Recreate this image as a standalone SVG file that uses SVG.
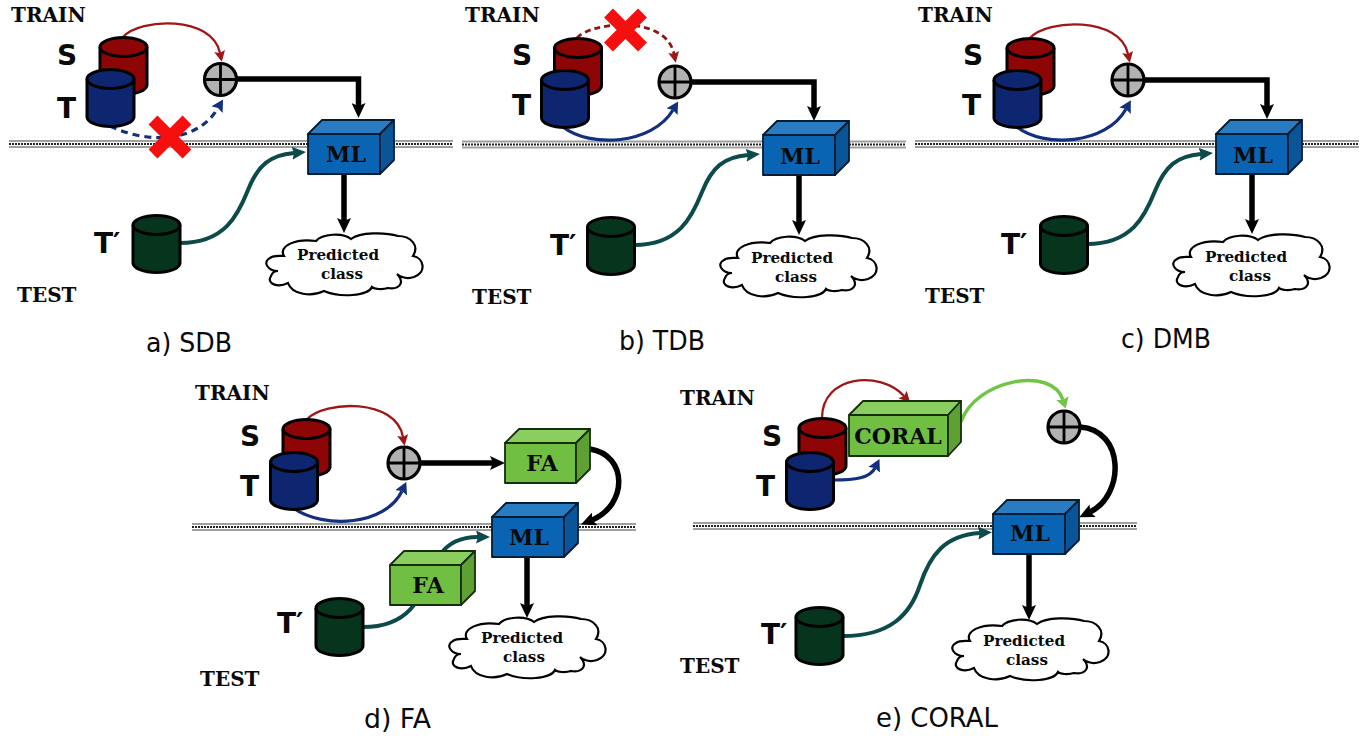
<svg xmlns="http://www.w3.org/2000/svg" width="1366" height="736" viewBox="0 0 1366 736">
<style>
text{fill:#0a0a0a}
.hd{font:bold 20px "DejaVu Serif","Liberation Serif",serif}
.ltr{font:bold 28px "DejaVu Sans","Liberation Sans",sans-serif}
.cap{font:27px "DejaVu Sans","Liberation Sans",sans-serif}
.box{font:bold 22px "DejaVu Serif","Liberation Serif",serif;text-anchor:middle}
.pc{font:bold 15.2px "DejaVu Serif","Liberation Serif",serif;text-anchor:middle}
.red{fill:#8e0505}.blu{fill:#0e2570}.grn{fill:#07341c}
.cyl{stroke:#000;stroke-width:3}
.in{fill:none}
.cb path{stroke:#041c34;stroke-width:1.8;stroke-linejoin:round}
.gb path{stroke:#162e0c;stroke-width:1.8;stroke-linejoin:round}
.c{fill:none}
.r{stroke:#a01515;stroke-width:2.3}
.rd{stroke:#8c1515;stroke-width:2.8;stroke-dasharray:6 4}
.b{stroke:#12307f;stroke-width:3.2}
.bd{stroke:#12307f;stroke-width:3.2;stroke-dasharray:7 5}
.t{stroke:#0d4b4b;stroke-width:4}
.k{stroke:#000;stroke-width:5.5}
.g{stroke:#70c545;stroke-width:3.5}
.x{stroke:#f60f0f;stroke-width:12.5}
.sep1{stroke:#a0a0a0;stroke-width:1.8}
.sep2{stroke:#222;stroke-width:2;stroke-dasharray:2 1}
.sum{fill:#b2b2b2;stroke:#000;stroke-width:3.2}
.cross{stroke:#000;stroke-width:2.8}
.cl{fill:#fff;stroke:#000;stroke-width:2.2}
</style>
<defs>
<marker id="mr" markerUnits="userSpaceOnUse" markerWidth="11" markerHeight="11" refX="2" refY="5.500" orient="auto"><path d="M0,0 L11,5.500 L0,11 L2,5.500Z" fill="#a01515"/></marker>
<marker id="mb" markerUnits="userSpaceOnUse" markerWidth="12" markerHeight="13" refX="2" refY="6.500" orient="auto"><path d="M0,0 L12,6.500 L0,13 L2,6.500Z" fill="#12307f"/></marker>
<marker id="mt" markerUnits="userSpaceOnUse" markerWidth="14" markerHeight="13" refX="2" refY="6.500" orient="auto"><path d="M0,0 L14,6.500 L0,13 L2,6.500Z" fill="#0d4b4b"/></marker>
<marker id="mg" markerUnits="userSpaceOnUse" markerWidth="11" markerHeight="13" refX="2" refY="6.500" orient="auto"><path d="M0,0 L11,6.500 L0,13 L2,6.500Z" fill="#70c545"/></marker>
<marker id="mk" markerUnits="userSpaceOnUse" markerWidth="15" markerHeight="14" refX="3" refY="7" orient="auto"><path d="M0,0 L15,7 L0,14 L3,7Z" fill="#000"/></marker>
<g id="cylinder"><path class="cyl" d="M-23.5,0A23.5,9.5 0 0 1 23.5,0V38A23.5,9.5 0 0 1 -23.5,38Z"/><path class="cyl in" d="M-23.5,0A23.5,9.5 0 0 0 23.5,0"/></g>
<g id="mlbox" class="cb"><path d="M0,0H72V40H0Z" fill="#0a64b4"/><path d="M0,0L14,-14H86L72,0Z" fill="#2a7cc2"/><path d="M72,0L86,-14V26L72,40Z" fill="#0a5498"/></g>
<g id="fabox" class="gb"><path d="M0,0H71V40H0Z" fill="#70bf42"/><path d="M0,0L14,-14H85L71,0Z" fill="#8bce60"/><path d="M71,0L85,-14V26L71,40Z" fill="#5ea032"/></g>
<g id="sumop"><circle r="16" class="sum"/><path class="cross" d="M-16,0H16M0,-16V16"/></g>
<path id="cloud" class="cl" d="M278,271C268,271 262,262 270,258C274,255 280,256 284,256C278,246 296,238 316,241C322,234 342,232 351,239C360,232 385,232 398,236C410,236 420,245 413,256C424,258 427,272 414,277C408,279 402,278 397,274C405,282 400,290 388,288C382,290 374,289 372,287C368,296 340,298 324,291C312,297 292,295 288,283C278,288 266,284 271,276C272,273 275,271 278,271Z"/>
<g id="sepline"><path class="sep1" d="M0,-3H444M0,3H444"/><path class="sep2" d="M0,0H444"/></g>
<path id="cross" class="x" d="M-17,-17L17,17M17,-17L-17,17"/>
</defs>

<g id="separators">
<use href="#sepline" x="9" y="144"/>
<use href="#sepline" x="462" y="144.500"/>
<use href="#sepline" x="915" y="144"/>
<use href="#sepline" x="192" y="527"/>
<use href="#sepline" x="693" y="526"/>
</g>

<g id="connectors">
<!-- a -->
<path class="c r" marker-end="url(#mr)" d="M123,37C140,18 212,15 220,53"/>
<path class="c bd" marker-end="url(#mb)" d="M110,126C150,145 198,142 218,108"/>
<path class="c k" marker-end="url(#mk)" d="M236,79H358.500V106"/>
<path class="c t" marker-end="url(#mt)" d="M180,243C225,243 238,215 248,190C258,165 270,155 294,153"/>
<path class="c k" marker-end="url(#mk)" d="M344,174V221"/>
<!-- b -->
<path class="c rd" marker-end="url(#mr)" d="M577,38C590,22 666,14 674,54"/>
<path class="c b" marker-end="url(#mb)" d="M563,127C590,148 652,145 673,110"/>
<path class="c k" marker-end="url(#mk)" d="M691,82H814V109"/>
<path class="c t" marker-end="url(#mt)" d="M634,245C679,245 692,217 702,192C712,167 724,157 748,155"/>
<path class="c k" marker-end="url(#mk)" d="M799,175V223"/>
<!-- c -->
<path class="c r" marker-end="url(#mr)" d="M1030,38C1047,19 1120,16 1128,54"/>
<path class="c b" marker-end="url(#mb)" d="M1017,127C1044,148 1106,145 1126,109"/>
<path class="c k" marker-end="url(#mk)" d="M1144,80H1267V107"/>
<path class="c t" marker-end="url(#mt)" d="M1087,244C1132,244 1145,216 1155,191C1165,166 1177,156 1201,154"/>
<path class="c k" marker-end="url(#mk)" d="M1252,174V222"/>
<!-- d -->
<path class="c r" marker-end="url(#mr)" d="M306,420C325,400 396,398 403,437"/>
<path class="c b" marker-end="url(#mb)" d="M293,508C325,530 386,525 402,491"/>
<path class="c k" marker-end="url(#mk)" d="M420,463H493"/>
<path class="c k" marker-end="url(#mk)" d="M590,449C628,455 628,505 592,520"/>
<path class="c t" marker-end="url(#mt)" d="M363,627C410,627 420,600 440,555C450,540 465,537 478,537"/>
<path class="c k" marker-end="url(#mk)" d="M527,558V606"/>
<!-- e -->
<path class="c r" marker-end="url(#mr)" d="M822,418C822,375 880,370 904,396"/>
<path class="c b" marker-end="url(#mb)" d="M834,480C855,480 870,478 875,468"/>
<path class="c g" marker-end="url(#mg)" d="M961,422C975,380 1052,365 1063,400"/>
<path class="c k" marker-end="url(#mk)" d="M1080,427C1125,430 1125,495 1090,512"/>
<path class="c t" marker-end="url(#mt)" d="M843,636C890,636 910,615 920,585C930,555 945,535 980,533"/>
<path class="c k" marker-end="url(#mk)" d="M1029,554V608"/>
</g>

<g id="panel-a">
<text class="hd" x="11" y="22">TRAIN</text><text class="hd" x="17" y="302">TEST</text>
<text class="ltr" x="57" y="65">S</text><text class="ltr" x="57" y="118">T</text><text class="ltr" x="94" y="253">T′</text>
<text class="cap" x="146" y="352" textLength="86" lengthAdjust="spacingAndGlyphs">a) SDB</text>
<g id="a-s"><use href="#cylinder" class="red" x="123.500" y="47"/></g>
<g id="a-t"><use href="#cylinder" class="blu" x="110.500" y="79"/></g>
<g id="a-tp"><use href="#cylinder" class="grn" x="156.500" y="225"/></g>
<g id="a-sum"><use href="#sumop" x="220.500" y="79.500"/></g>
<g id="a-ml"><use href="#mlbox" x="308" y="134"/><text class="box" x="346" y="162">ML</text></g>
<g id="a-cloud"><use href="#cloud"/><text class="pc" x="338" y="260">Predicted</text><text class="pc" x="342" y="279">class</text></g>
<use id="a-x" href="#cross" x="170" y="137"/>
</g>

<g id="panel-b">
<text class="hd" x="465" y="22">TRAIN</text><text class="hd" x="472" y="304">TEST</text>
<text class="ltr" x="512" y="65">S</text><text class="ltr" x="512" y="115">T</text><text class="ltr" x="550" y="255">T′</text>
<text class="cap" x="619" y="350" textLength="86" lengthAdjust="spacingAndGlyphs">b) TDB</text>
<g id="b-s"><use href="#cylinder" class="red" x="578" y="48"/></g>
<g id="b-t"><use href="#cylinder" class="blu" x="565" y="80"/></g>
<g id="b-tp"><use href="#cylinder" class="grn" x="611" y="227"/></g>
<g id="b-sum"><use href="#sumop" x="675" y="82"/></g>
<g id="b-ml"><use href="#mlbox" x="763" y="135"/><text class="box" x="800" y="164">ML</text></g>
<g id="b-cloud"><use href="#cloud" x="454" y="2"/><text class="pc" x="792" y="263">Predicted</text><text class="pc" x="796" y="282">class</text></g>
<use id="b-x" href="#cross" x="625.500" y="30"/>
</g>

<g id="panel-c">
<text class="hd" x="918" y="22">TRAIN</text><text class="hd" x="925" y="303">TEST</text>
<text class="ltr" x="963" y="65">S</text><text class="ltr" x="962" y="115">T</text><text class="ltr" x="1001" y="254">T′</text>
<text class="cap" x="1121" y="348" textLength="90" lengthAdjust="spacingAndGlyphs">c) DMB</text>
<g id="c-s"><use href="#cylinder" class="red" x="1030.500" y="48"/></g>
<g id="c-t"><use href="#cylinder" class="blu" x="1017.500" y="80"/></g>
<g id="c-tp"><use href="#cylinder" class="grn" x="1064" y="226"/></g>
<g id="c-sum"><use href="#sumop" x="1128" y="80"/></g>
<g id="c-ml"><use href="#mlbox" x="1216" y="134"/><text class="box" x="1253" y="163">ML</text></g>
<g id="c-cloud"><use href="#cloud" x="907" y="1"/><text class="pc" x="1246" y="262">Predicted</text><text class="pc" x="1250" y="281">class</text></g>
</g>

<g id="panel-d">
<text class="hd" x="195" y="400">TRAIN</text><text class="hd" x="200" y="686">TEST</text>
<text class="ltr" x="240" y="446">S</text><text class="ltr" x="240" y="496">T</text><text class="ltr" x="277" y="633">T′</text>
<text class="cap" x="364" y="728" textLength="67" lengthAdjust="spacingAndGlyphs">d) FA</text>
<g id="d-s"><use href="#cylinder" class="red" x="306.500" y="429"/></g>
<g id="d-t"><use href="#cylinder" class="blu" x="294" y="462"/></g>
<g id="d-tp"><use href="#cylinder" class="grn" x="339.500" y="608"/></g>
<g id="d-sum"><use href="#sumop" x="404" y="463"/></g>
<g id="d-fa1"><use href="#fabox" x="505" y="443"/><text class="box" x="542" y="471">FA</text></g>
<g id="d-ml"><use href="#mlbox" x="492" y="517"/><text class="box" x="529" y="545">ML</text></g>
<g id="d-fa2"><use href="#fabox" x="390" y="565"/><text class="box" x="428" y="593">FA</text></g>
<g id="d-cloud"><use href="#cloud" x="183" y="383"/><text class="pc" x="522" y="643">Predicted</text><text class="pc" x="524" y="662">class</text></g>
</g>

<g id="panel-e">
<text class="hd" x="680" y="405">TRAIN</text><text class="hd" x="680" y="673">TEST</text>
<text class="ltr" x="762" y="446">S</text><text class="ltr" x="756" y="496">T</text><text class="ltr" x="761" y="644">T′</text>
<text class="cap" x="876" y="727" textLength="122" lengthAdjust="spacingAndGlyphs">e) CORAL</text>
<g id="e-s"><use href="#cylinder" class="red" x="822.500" y="428"/></g>
<g id="e-t"><use href="#cylinder" class="blu" x="810" y="462"/></g>
<g id="e-tp"><use href="#cylinder" class="grn" x="819.500" y="617"/></g>
<g id="e-sum"><use href="#sumop" x="1064" y="427"/></g>
<g id="e-coral" class="gb"><path d="M849,415H948V456H849Z" fill="#70bf42"/><path d="M849,415L863,401H961L948,415Z" fill="#8bce60"/><path d="M948,415L961,401V442L948,456Z" fill="#5ea032"/><text class="box" x="898" y="444">CORAL</text></g>
<g id="e-ml"><use href="#mlbox" x="993" y="514"/><text class="box" x="1030" y="541">ML</text></g>
<g id="e-cloud"><use href="#cloud" x="686" y="385"/><text class="pc" x="1024" y="646">Predicted</text><text class="pc" x="1027" y="665">class</text></g>
</g>
</svg>
